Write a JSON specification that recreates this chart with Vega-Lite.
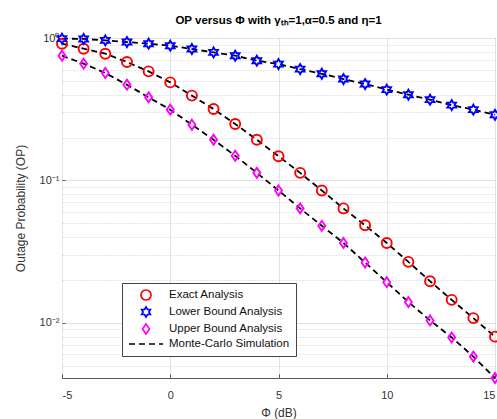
{
  "$schema": "https://vega.github.io/schema/vega-lite/v6.json",
  "autosize": {"type": "none"},
  "padding": {"left": 62, "top": 38, "right": 2, "bottom": 41},
  "width": 433,
  "height": 340,
  "background": "white",
  "title": {
    "text": "OP versus Φ with γₜₕ=1,α=0.5 and η=1",
    "font": "Liberation Sans",
    "fontSize": 11.5,
    "fontWeight": "bold",
    "color": "#000000",
    "anchor": "middle",
    "offset": 3
  },
  "config": {
    "view": {"stroke": "#555555", "strokeWidth": 1},
    "font": "Liberation Sans",
    "axis": {
      "labelFont": "Liberation Sans",
      "titleFont": "Liberation Sans",
      "labelColor": "#333333",
      "titleColor": "#333333",
      "labelFontSize": 11,
      "titleFontSize": 12,
      "titleFontWeight": "normal",
      "domain": false,
      "tickColor": "#555555",
      "gridColor": "#e3e3e3",
      "gridOpacity": 1
    },
    "legend": {
      "orient": "none",
      "legendX": 60,
      "legendY": 245,
      "fillColor": "white",
      "strokeColor": "#444444",
      "padding": 6,
      "labelFont": "Liberation Sans",
      "labelFontSize": 11.5,
      "labelColor": "#111111",
      "symbolSize": 100,
      "symbolStrokeWidth": 1.7,
      "symbolOffset": 12,
      "labelOffset": 17,
      "rowPadding": -1
    }
  },
  "data": {
    "values": [
      {"phi": -5, "curve": "Exact Analysis", "op": 0.912},
      {"phi": -4, "curve": "Exact Analysis", "op": 0.841},
      {"phi": -3, "curve": "Exact Analysis", "op": 0.776},
      {"phi": -2, "curve": "Exact Analysis", "op": 0.678},
      {"phi": -1, "curve": "Exact Analysis", "op": 0.583},
      {"phi": 0, "curve": "Exact Analysis", "op": 0.488},
      {"phi": 1, "curve": "Exact Analysis", "op": 0.394},
      {"phi": 2, "curve": "Exact Analysis", "op": 0.317},
      {"phi": 3, "curve": "Exact Analysis", "op": 0.249},
      {"phi": 4, "curve": "Exact Analysis", "op": 0.193},
      {"phi": 5, "curve": "Exact Analysis", "op": 0.148},
      {"phi": 6, "curve": "Exact Analysis", "op": 0.113},
      {"phi": 7, "curve": "Exact Analysis", "op": 0.085},
      {"phi": 8, "curve": "Exact Analysis", "op": 0.0636},
      {"phi": 9, "curve": "Exact Analysis", "op": 0.0484},
      {"phi": 10, "curve": "Exact Analysis", "op": 0.0364},
      {"phi": 11, "curve": "Exact Analysis", "op": 0.0268},
      {"phi": 12, "curve": "Exact Analysis", "op": 0.0196},
      {"phi": 13, "curve": "Exact Analysis", "op": 0.0145},
      {"phi": 14, "curve": "Exact Analysis", "op": 0.0108},
      {"phi": 15, "curve": "Exact Analysis", "op": 0.008},
      {"phi": -5, "curve": "Lower Bound Analysis", "op": 0.99},
      {"phi": -4, "curve": "Lower Bound Analysis", "op": 0.985},
      {"phi": -3, "curve": "Lower Bound Analysis", "op": 0.962},
      {"phi": -2, "curve": "Lower Bound Analysis", "op": 0.937},
      {"phi": -1, "curve": "Lower Bound Analysis", "op": 0.912},
      {"phi": 0, "curve": "Lower Bound Analysis", "op": 0.883},
      {"phi": 1, "curve": "Lower Bound Analysis", "op": 0.837},
      {"phi": 2, "curve": "Lower Bound Analysis", "op": 0.792},
      {"phi": 3, "curve": "Lower Bound Analysis", "op": 0.751},
      {"phi": 4, "curve": "Lower Bound Analysis", "op": 0.693},
      {"phi": 5, "curve": "Lower Bound Analysis", "op": 0.656},
      {"phi": 6, "curve": "Lower Bound Analysis", "op": 0.605},
      {"phi": 7, "curve": "Lower Bound Analysis", "op": 0.561},
      {"phi": 8, "curve": "Lower Bound Analysis", "op": 0.515},
      {"phi": 9, "curve": "Lower Bound Analysis", "op": 0.475},
      {"phi": 10, "curve": "Lower Bound Analysis", "op": 0.434},
      {"phi": 11, "curve": "Lower Bound Analysis", "op": 0.4},
      {"phi": 12, "curve": "Lower Bound Analysis", "op": 0.369},
      {"phi": 13, "curve": "Lower Bound Analysis", "op": 0.338},
      {"phi": 14, "curve": "Lower Bound Analysis", "op": 0.314},
      {"phi": 15, "curve": "Lower Bound Analysis", "op": 0.289},
      {"phi": -5, "curve": "Upper Bound Analysis", "op": 0.751},
      {"phi": -4, "curve": "Upper Bound Analysis", "op": 0.66},
      {"phi": -3, "curve": "Upper Bound Analysis", "op": 0.568},
      {"phi": -2, "curve": "Upper Bound Analysis", "op": 0.47},
      {"phi": -1, "curve": "Upper Bound Analysis", "op": 0.383},
      {"phi": 0, "curve": "Upper Bound Analysis", "op": 0.314},
      {"phi": 1, "curve": "Upper Bound Analysis", "op": 0.246},
      {"phi": 2, "curve": "Upper Bound Analysis", "op": 0.193},
      {"phi": 3, "curve": "Upper Bound Analysis", "op": 0.149},
      {"phi": 4, "curve": "Upper Bound Analysis", "op": 0.113},
      {"phi": 5, "curve": "Upper Bound Analysis", "op": 0.085},
      {"phi": 6, "curve": "Upper Bound Analysis", "op": 0.0636},
      {"phi": 7, "curve": "Upper Bound Analysis", "op": 0.048},
      {"phi": 8, "curve": "Upper Bound Analysis", "op": 0.0364},
      {"phi": 9, "curve": "Upper Bound Analysis", "op": 0.0265},
      {"phi": 10, "curve": "Upper Bound Analysis", "op": 0.0193},
      {"phi": 11, "curve": "Upper Bound Analysis", "op": 0.014},
      {"phi": 12, "curve": "Upper Bound Analysis", "op": 0.0104},
      {"phi": 13, "curve": "Upper Bound Analysis", "op": 0.0079},
      {"phi": 14, "curve": "Upper Bound Analysis", "op": 0.0058},
      {"phi": 15, "curve": "Upper Bound Analysis", "op": 0.0041}
    ]
  },
  "encoding": {
    "x": {
      "field": "phi",
      "type": "quantitative",
      "scale": {"domain": [-5, 15], "nice": false, "zero": false},
      "axis": {
        "title": "Φ (dB)",
        "values": [-5, 0, 5, 10, 15],
        "labelExpr": "toString(datum.value)",
        "grid": true,
        "tickSize": -4,
        "labelPadding": 15,
        "titlePadding": 7
      }
    },
    "y": {
      "field": "op",
      "type": "quantitative",
      "scale": {"type": "log", "domain": [0.0041, 1], "nice": false},
      "axis": {
        "title": "Outage Probability (OP)",
        "values": [0.005, 0.006, 0.007, 0.008, 0.009, 0.01, 0.02, 0.03, 0.04, 0.05, 0.06, 0.07, 0.08, 0.09, 0.1, 0.2, 0.3, 0.4, 0.5, 0.6, 0.7, 0.8, 0.9, 1],
        "grid": true,
        "gridDash": {"condition": {"test": "abs(log(datum.value)/LN10 - round(log(datum.value)/LN10)) < 0.001", "value": []}, "value": [1, 2]},
        "gridColor": {"condition": {"test": "abs(log(datum.value)/LN10 - round(log(datum.value)/LN10)) < 0.001", "value": "#e0e0e0"}, "value": "#cccccc"},
        "tickSize": -3,
        "tickOpacity": {"condition": {"test": "abs(log(datum.value)/LN10 - round(log(datum.value)/LN10)) < 0.001", "value": 1}, "value": 0},
        "labelExpr": "abs(log(datum.value)/LN10) < 0.001 ? '10⁰' : abs(log(datum.value)/LN10 + 1) < 0.001 ? '10⁻¹' : abs(log(datum.value)/LN10 + 2) < 0.001 ? '10⁻²' : ''",
        "labelPadding": 6,
        "titlePadding": 12
      }
    }
  },
  "layer": [
    {
      "mark": {"type": "line", "color": "black", "strokeDash": [6, 4], "strokeWidth": 1.8, "clip": false},
      "encoding": {"detail": {"field": "curve"}}
    },
    {
      "mark": {"type": "point", "filled": false, "size": 100, "strokeWidth": 1.9, "opacity": 1, "clip": false},
      "encoding": {
        "color": {
          "field": "curve",
          "type": "nominal",
          "scale": {
            "domain": ["Exact Analysis", "Lower Bound Analysis", "Upper Bound Analysis", "Monte-Carlo Simulation"],
            "range": ["#ff0000", "#0000ff", "#ff00ff", "#000000"]
          },
          "legend": {"title": null}
        },
        "shape": {
          "field": "curve",
          "type": "nominal",
          "scale": {
            "domain": ["Exact Analysis", "Lower Bound Analysis", "Upper Bound Analysis", "Monte-Carlo Simulation"],
            "range": [
              "circle",
              "M0,-1L0.289,-0.5L0.866,-0.5L0.577,0L0.866,0.5L0.289,0.5L0,1L-0.289,0.5L-0.866,0.5L-0.577,0L-0.866,-0.5L-0.289,-0.5Z",
              "M0,-1L0.7,0L0,1L-0.7,0Z",
              "M-3.4,0H-2.2M-1.4,0H-0.2M0.6,0H1.8M2.6,0H3.4"
            ]
          },
          "legend": {"title": null}
        }
      }
    }
  ]
}
